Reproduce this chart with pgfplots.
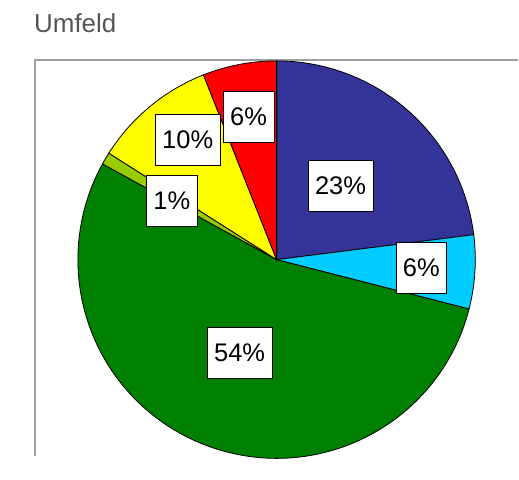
\documentclass[border=0pt]{standalone}
\usepackage{pgfplots}
\usepackage{pgfplotstable}
\pgfplotsset{compat=1.18}
\usepackage{fontspec}
\setmainfont{Liberation Sans}
\definecolor{slice0}{RGB}{51,51,153}
\definecolor{slice1}{RGB}{0,204,255}
\definecolor{slice2}{RGB}{0,128,0}
\definecolor{slice3}{RGB}{153,204,0}
\definecolor{slice4}{RGB}{255,255,0}
\definecolor{slice5}{RGB}{255,0,0}
\definecolor{titlegray}{RGB}{85,85,85}
\definecolor{framegray}{RGB}{160,160,160}
% values (percent, clockwise from 12 o'clock) and label centres (pixel coords, y up)
\pgfplotstableread{
value lx ly
23 341 275
6  422 193
54 240 108
1  172 260
10 188 321
6  249 344
}\data
\pgfplotstablecreatecol[create col/expr accum={\pgfmathaccuma + \thisrow{value}}{0}]{cum}{\data}
\begin{document}
\begin{tikzpicture}
\foreach \i in {0,...,5}{%
  \pgfplotstablegetelem{\i}{value}\of\data\let\v\pgfplotsretval
  \pgfplotstablegetelem{\i}{cum}\of\data\let\c\pgfplotsretval
  \pgfmathsetmacro\aS{90-3.6*(\c-\v)}%
  \pgfmathsetmacro\aE{90-3.6*\c}%
  \expandafter\xdef\csname aS\i\endcsname{\aS}%
  \expandafter\xdef\csname aE\i\endcsname{\aE}%
  \expandafter\xdef\csname lab\i\endcsname{\v}%
  \pgfplotstablegetelem{\i}{lx}\of\data
  \expandafter\xdef\csname lx\i\endcsname{\pgfplotsretval}%
  \pgfplotstablegetelem{\i}{ly}\of\data
  \expandafter\xdef\csname ly\i\endcsname{\pgfplotsretval}%
}
\begin{axis}[
  width=519pt, height=461pt, scale only axis,
  xmin=0, xmax=519, ymin=0, ymax=461,
  hide axis, clip=false,
]
\path[fill=white] (axis cs:0,0) rectangle (axis cs:519,461);
\node[anchor=base west, text=titlegray, font=\fontsize{26}{30}\selectfont, inner sep=0pt] at (axis cs:34,428) {Umfeld};
\draw[framegray, line width=1.5pt] (axis cs:35,4) -- (axis cs:35,401) -- (axis cs:519,401);
\pgfplotsinvokeforeach{0,...,5}{%
  \edef\temp{\noexpand\filldraw[fill=slice#1, draw=black, line width=0.8pt]
    (axis cs:277,201) -- ++(\csname aS#1\endcsname:199pt)
    arc[start angle=\csname aS#1\endcsname, end angle=\csname aE#1\endcsname, radius=199pt] -- cycle;}%
  \temp
}
\pgfplotsinvokeforeach{0,...,5}{%
  \edef\temp{\noexpand\node[fill=white, draw=black, line width=0.6pt,
    font=\noexpand\fontsize{25.5}{30}\noexpand\selectfont,
    inner xsep=7pt, inner ysep=0pt, minimum height=51pt]
    at (axis cs:\csname lx#1\endcsname,\csname ly#1\endcsname) {\csname lab#1\endcsname\noexpand\%};}%
  \temp
}
\end{axis}
\end{tikzpicture}
\end{document}
